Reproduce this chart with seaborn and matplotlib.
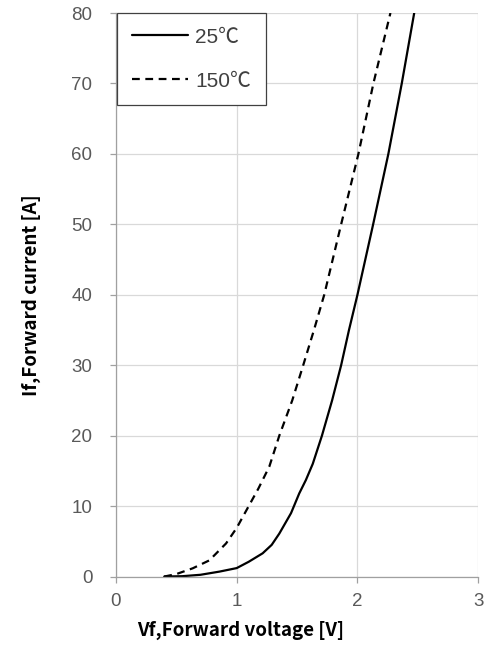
import pandas as pd
import matplotlib
matplotlib.use("Agg")
import matplotlib.pyplot as plt
import seaborn as sns

# forward characteristics
vf_25 = [0.40, 0.55, 0.70, 0.857, 1.00, 1.10, 1.215, 1.29, 1.353, 1.45, 1.518, 1.573, 1.63, 1.706, 1.79, 1.865, 1.93, 2.00, 2.13, 2.256, 2.367, 2.47]
if_25 = [0.0, 0.05, 0.25, 0.7, 1.2, 2.1, 3.3, 4.5, 6.1, 9.0, 11.8, 13.7, 16.0, 20.0, 25.0, 30.0, 35.0, 40.0, 50.0, 60.0, 70.0, 80.0]

vf_150 = [0.40, 0.50, 0.636, 0.774, 0.912, 1.00, 1.09, 1.18, 1.27, 1.353, 1.46, 1.551, 1.64, 1.725, 1.865, 2.008, 2.132, 2.273]
if_150 = [0.0, 0.35, 1.17, 2.3, 4.7, 6.9, 9.7, 12.5, 15.6, 20.0, 25.0, 30.0, 35.0, 40.0, 50.0, 60.0, 70.0, 80.0]

labels = ["25℃", "150℃"]
x_ticks = [0, 1, 2, 3]
y_ticks = [0, 10, 20, 30, 40, 50, 60, 70, 80]

sns.set_style("white")
plt.rcParams["font.family"] = ["Liberation Sans", "Noto Sans CJK SC", "DejaVu Sans"]

fig = plt.figure(figsize=(4.85, 6.5), dpi=100)
ax = fig.add_axes([0.239, 0.113, 0.747, 0.867])

sns.lineplot(x=vf_25, y=if_25, ax=ax, color="black", lw=1.6, label=labels[0])
sns.lineplot(x=vf_150, y=if_150, ax=ax, color="black", lw=1.6,
             linestyle=(0, (3.5, 2.5)), label=labels[1])

ax.set_xlim(0, 3)
ax.set_ylim(0, 80)
ax.set_xticks(x_ticks)
ax.set_yticks(y_ticks)
ax.grid(True, color="#d9d9d9", lw=0.9)
ax.set_axisbelow(True)
for s in ["top", "right"]:
    ax.spines[s].set_visible(False)
for s in ["left", "bottom"]:
    ax.spines[s].set_color("#a0a0a0")
    ax.spines[s].set_linewidth(0.9)
ax.tick_params(axis="both", direction="out", length=4, width=0.9, color="#a0a0a0",
               labelsize=13.5, labelcolor="#595959", bottom=True, left=True)
ax.tick_params(axis="y", pad=13)
ax.tick_params(axis="x", pad=8)

lab_font = dict(family=["Noto Sans CJK SC", "DejaVu Sans"], weight="bold", size=13.5, color="black")
ax.set_xlabel("Vf,Forward voltage [V]", **lab_font, labelpad=8)
ax.set_ylabel("If,Forward current [A]", **lab_font, labelpad=22)
ax.xaxis.label.set_x(0.345)

leg = ax.legend(loc="upper left", bbox_to_anchor=(0.003, 1.0), borderaxespad=0,
                fancybox=False, framealpha=1, edgecolor="#404040",
                fontsize=15, handlelength=2.7, handletextpad=0.35,
                labelspacing=1.2, borderpad=0.7)
leg.get_frame().set_linewidth(0.9)
for t in leg.get_texts():
    t.set_color("#404040")

fig.savefig("out.png", dpi=100)
